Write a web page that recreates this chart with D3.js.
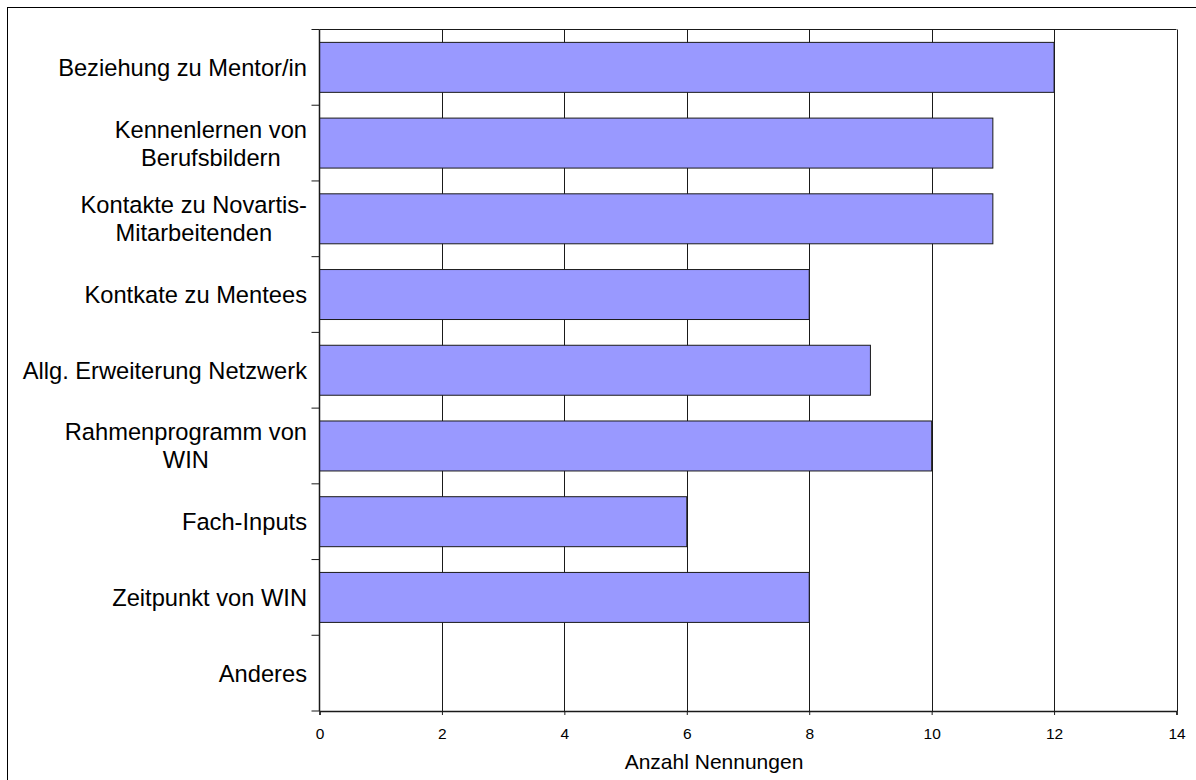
<!DOCTYPE html>
<html>
<head>
<meta charset="utf-8">
<script src="https://cdn.jsdelivr.net/npm/d3@7"></script>
<style>
  html, body { margin: 0; padding: 0; background: #fff; }
  svg { display: block; font-family: "Liberation Sans", Arial, sans-serif; }
</style>
</head>
<body>
<svg id="chart" width="1196" height="780"></svg>
<script>
// Categories (lines of each label) and number of mentions
const categories = [
  ["Beziehung zu Mentor/in"],
  ["Kennenlernen von", "Berufsbildern"],
  ["Kontakte zu Novartis-", "Mitarbeitenden"],
  ["Kontkate zu Mentees"],
  ["Allg. Erweiterung Netzwerk"],
  ["Rahmenprogramm von", "WIN"],
  ["Fach-Inputs"],
  ["Zeitpunkt von WIN"],
  ["Anderes"]
];
const values = [12, 11, 11, 8, 9, 10, 6, 8, 0];
const xTicks = [0, 2, 4, 6, 8, 10, 12, 14];
const xTitle = "Anzahl Nennungen";

(function () {
  const svg = d3.select("#chart");
  const plotLeft = 319.5, plotRight = 1176.5, plotTop = 29.5, plotBottom = 711;

  const keys = categories.map((c, i) => i);
  const x = d3.scaleLinear().domain([0, 14]).range([plotLeft, plotRight]);
  const y = d3.scaleBand().domain(keys).range([plotTop, plotBottom])
    .paddingInner(0.34).paddingOuter(0.17);

  // Outer chart frame
  svg.append("rect")
    .attr("x", 7.5).attr("y", 7.5).attr("width", 1300).attr("height", 900)
    .attr("fill", "none").attr("stroke", "#000").attr("stroke-width", 1);

  // Vertical gridlines
  svg.append("g").selectAll("line").data(xTicks.slice(1)).join("line")
    .attr("x1", d => Math.round(x(d)) + 0.5).attr("x2", d => Math.round(x(d)) + 0.5)
    .attr("y1", plotTop).attr("y2", plotBottom)
    .attr("stroke", "#1a1a1a").attr("stroke-width", 1);

  // Plot border top
  svg.append("line")
    .attr("x1", plotLeft).attr("x2", plotRight).attr("y1", plotTop).attr("y2", plotTop)
    .attr("stroke", "#1a1a1a");

  // Bars
  svg.append("g").selectAll("rect").data(values).join("rect")
    .attr("x", x(0))
    .attr("y", (d, i) => y(i))
    .attr("width", d => x(d) - x(0))
    .attr("height", y.bandwidth())
    .attr("fill", d => d > 0 ? "#9999ff" : "none")
    .attr("stroke", d => d > 0 ? "#1a1a1a" : "none")
    .attr("stroke-width", 1);

  // X axis
  const xAxis = svg.append("g")
    .attr("transform", `translate(0,${plotBottom})`)
    .call(d3.axisBottom(x).tickValues(xTicks).tickSize(4).tickPadding(13)
      .tickFormat(d3.format("d")));
  xAxis.select(".domain").attr("stroke", "#1a1a1a").attr("stroke-width", 1.5);
  xAxis.selectAll(".tick line").attr("stroke", "#1a1a1a");
  xAxis.selectAll(".tick text")
    .attr("font-family", "Liberation Sans, Arial, sans-serif")
    .attr("font-size", 15.5).attr("fill", "#000");

  // Y axis: ticks at band boundaries
  const step = y.step();
  const boundaries = d3.range(categories.length + 1).map(i => plotTop + i * step);
  svg.append("line")
    .attr("x1", plotLeft).attr("x2", plotLeft).attr("y1", plotTop).attr("y2", plotBottom)
    .attr("stroke", "#1a1a1a").attr("stroke-width", 1.5);
  svg.append("g").selectAll("line").data(boundaries).join("line")
    .attr("x1", plotLeft - 8).attr("x2", plotLeft)
    .attr("y1", d => d).attr("y2", d => d)
    .attr("stroke", "#1a1a1a");

  // Category labels (multi-line labels centred within a right-aligned block)
  const fs = 23.7, lh = 28;
  const labelG = svg.append("g")
    .attr("font-size", fs).attr("fill", "#000");
  categories.forEach((lines, i) => {
    const cy = y(i) + y.bandwidth() / 2;
    const tmp = labelG.append("text").attr("visibility", "hidden");
    let maxW = 0;
    lines.forEach(l => {
      tmp.text(l);
      maxW = Math.max(maxW, tmp.node().getComputedTextLength());
    });
    tmp.remove();
    const rightEdge = 307;
    const cx = rightEdge - maxW / 2;
    const firstBase = cy + 8.5 - (lines.length - 1) * lh / 2;
    lines.forEach((l, j) => {
      labelG.append("text")
        .attr("x", cx).attr("y", firstBase + j * lh)
        .attr("text-anchor", "middle")
        .text(l);
    });
  });

  // Axis title
  svg.append("text")
    .attr("x", 714).attr("y", 769)
    .attr("text-anchor", "middle")
    .attr("font-size", 21).attr("fill", "#000")
    .text(xTitle);
})();
</script>
</body>
</html>
